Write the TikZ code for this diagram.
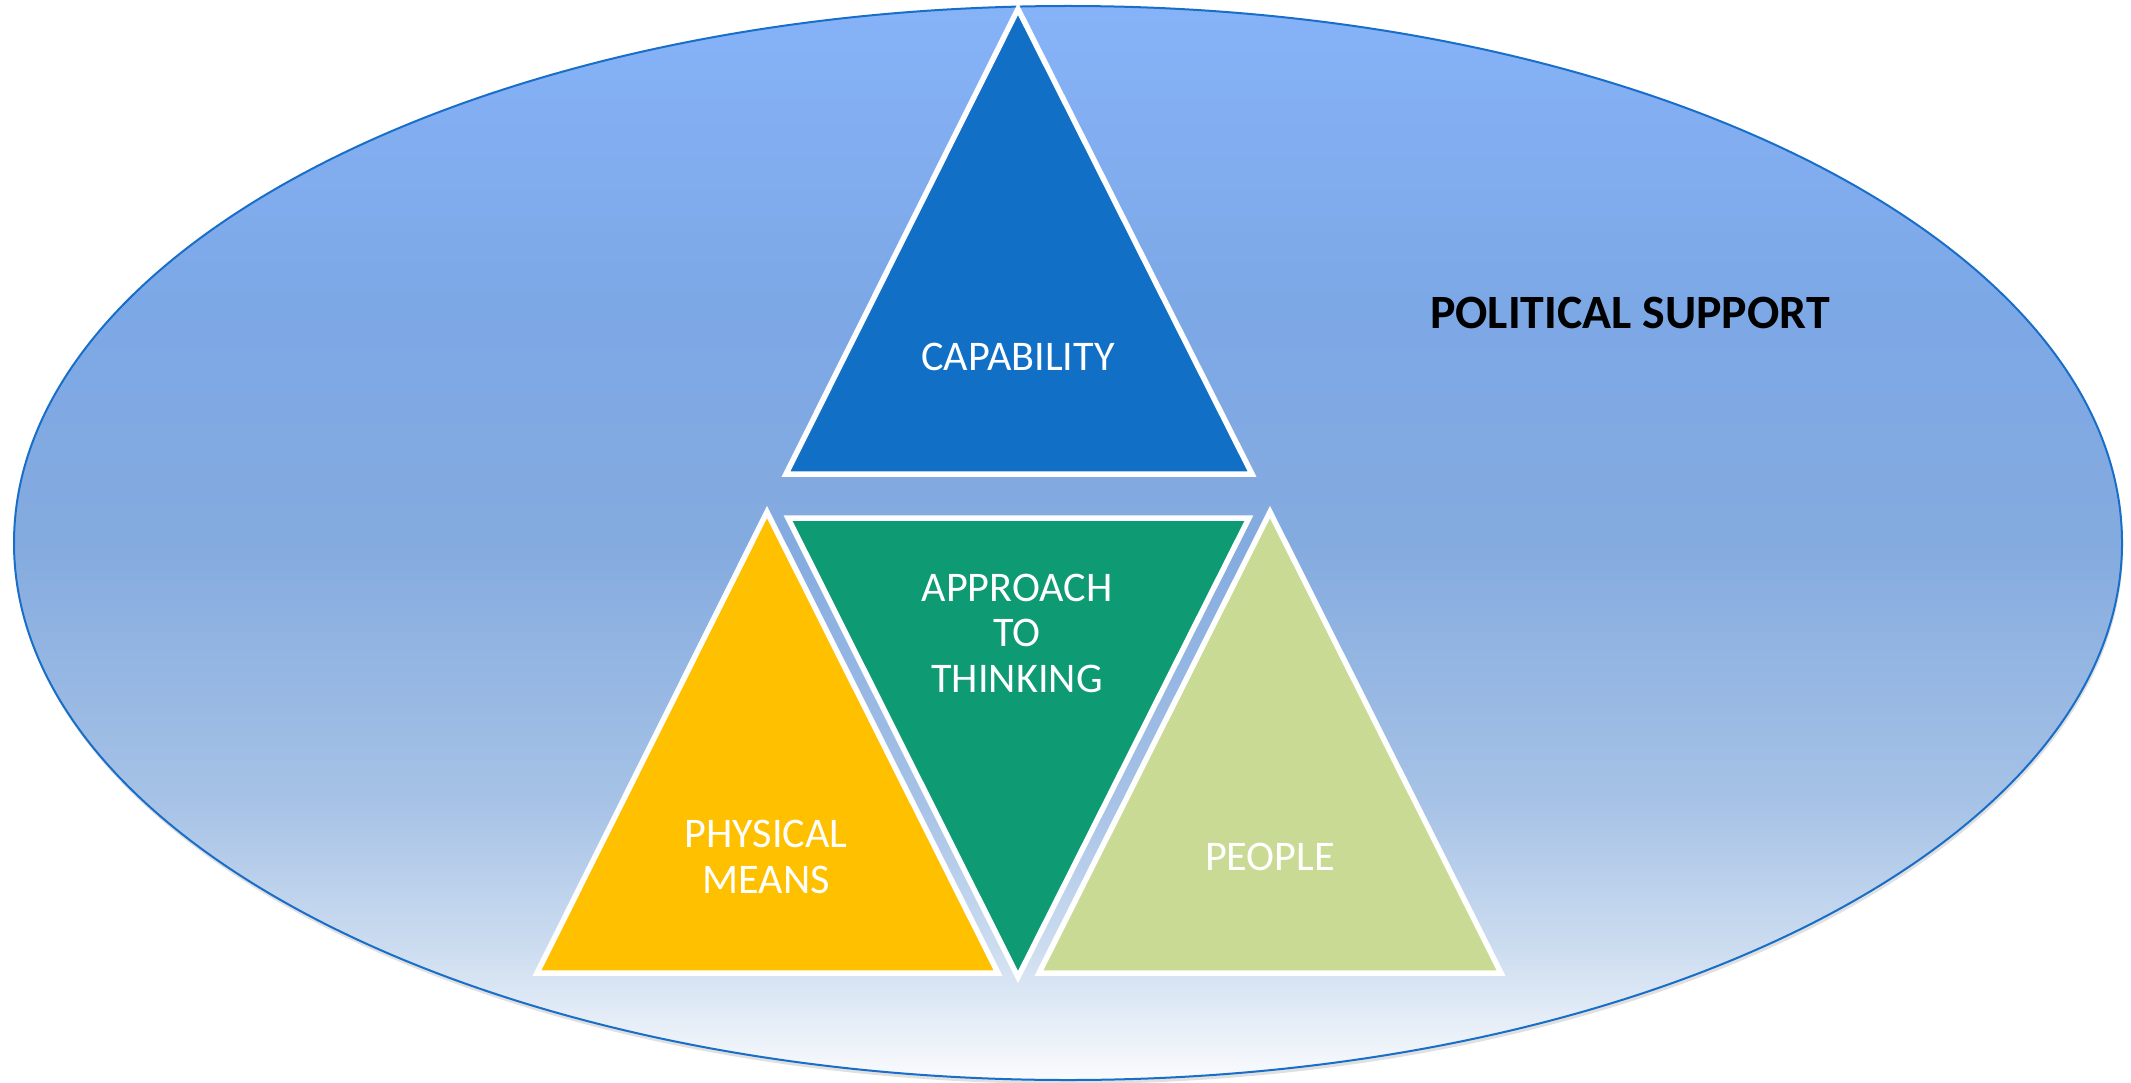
\documentclass[tikz,border=0pt]{standalone}
\usepackage{fontspec}
\setmainfont{Carlito}
\definecolor{bgA}{RGB}{134,178,248}
\definecolor{bgB}{RGB}{125,168,230}
\definecolor{bgC}{RGB}{132,171,223}
\definecolor{bgD}{RGB}{166,194,230}
\definecolor{bgE}{RGB}{205,221,240}
\definecolor{bgF}{RGB}{250,251,253}
\definecolor{ellborder}{RGB}{24,110,200}
\definecolor{capblue}{RGB}{17,112,198}
\definecolor{appgreen}{RGB}{14,154,115}
\definecolor{physyellow}{RGB}{255,192,0}
\definecolor{peoplegreen}{RGB}{201,218,149}
\pgfdeclareverticalshading{polsupport}{100bp}{%
  color(0bp)=(bgF); color(25bp)=(bgF); color(31bp)=(bgE); color(38bp)=(bgD);
  color(50bp)=(bgC); color(61bp)=(bgB); color(75bp)=(bgA); color(100bp)=(bgA)}
\tikzset{
  tri/.style={draw=white, line width=0.055cm, line join=miter},
  lbl/.style={text=white, font=\fontsize{12}{12.9}\selectfont, align=center, anchor=base, inner sep=0pt},
  title/.style={text=black, font=\fontsize{13.6}{15}\selectfont\bfseries, anchor=base, inner sep=0pt}
}
\begin{document}
\begin{tikzpicture}[x=0.01cm,y=-0.01cm]
\useasboundingbox (0,0) rectangle (2131,1082);
% shadow
\fill[black, opacity=0.12] (1069,547) ellipse [x radius=1054, y radius=537];
% outer ellipse
\path[shading=polsupport, draw=ellborder, line width=0.02cm] (1068,543) ellipse [x radius=1054, y radius=537];
% triangles
\filldraw[tri, fill=capblue] (1018,9) -- (786,474) -- (1252,474) -- cycle;
\filldraw[tri, fill=physyellow] (767,512) -- (537,973) -- (998,973) -- cycle;
\filldraw[tri, fill=peoplegreen] (1270,512) -- (1039,973) -- (1501,973) -- cycle;
\filldraw[tri, fill=appgreen] (788,518) -- (1249,518) -- (1018,977) -- cycle;
% labels (base anchor = baseline of the last line)
\node[title] (political) at (1630,328) {POLITICAL SUPPORT};
\node[lbl] (capability) at (1018,370) {CAPABILITY};
\node[lbl] (approach) at (1017,692) {APPROACH\\TO\\THINKING};
\node[lbl] (physical) at (766,893) {PHYSICAL\\MEANS};
\node[lbl] (people) at (1270,870) {PEOPLE};
\end{tikzpicture}
\end{document}
